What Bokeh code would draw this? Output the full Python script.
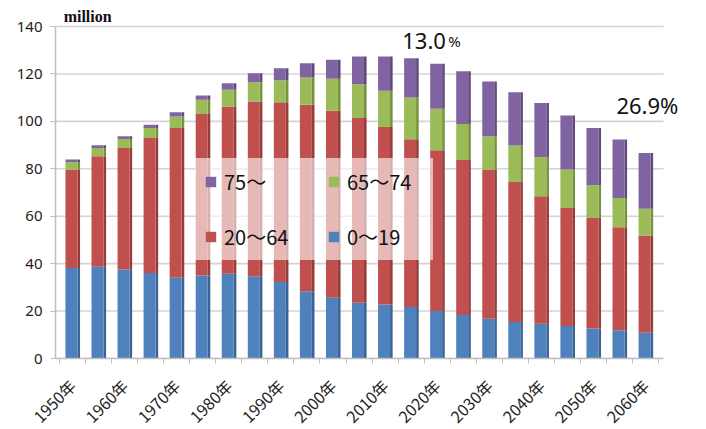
from math import pi
from bokeh.plotting import figure
from bokeh.models import (ColumnDataSource, Range1d, FixedTicker, PrintfTickFormatter,
                          Legend, LegendItem, Label)
from bokeh.transform import dodge
from bokeh.embed import file_html
from bokeh.resources import INLINE

# ---- data (million people) ----
years = [1950, 1955, 1960, 1965, 1970, 1975, 1980, 1985, 1990, 1995, 2000, 2005,
         2010, 2015, 2020, 2025, 2030, 2035, 2040, 2045, 2050, 2055, 2060]
age_0_19 = [38.2, 38.7, 37.5, 36.1, 34.0, 35.0, 35.7, 34.7, 32.3, 28.4, 25.6, 23.5,
            22.8, 21.7, 20.0, 18.3, 16.8, 15.4, 14.7, 13.7, 12.7, 11.9, 10.9]
age_20_64 = [41.5, 46.6, 51.3, 56.9, 63.2, 68.1, 70.6, 73.7, 75.8, 78.6, 78.9, 77.9,
             74.8, 70.8, 67.8, 65.4, 62.9, 59.0, 53.7, 49.8, 46.6, 43.5, 41.0]
age_65_74 = [3.2, 3.5, 3.8, 4.2, 4.9, 6.0, 7.0, 8.1, 9.2, 11.5, 13.5, 14.3,
             15.3, 17.6, 17.5, 15.2, 14.0, 15.4, 16.6, 16.2, 13.8, 12.3, 11.3]
age_75_plus = [1.0, 1.1, 1.1, 1.4, 1.7, 1.8, 2.8, 3.8, 5.1, 6.0, 8.0, 11.7,
               14.5, 16.5, 19.0, 22.2, 23.1, 22.5, 22.7, 22.8, 24.1, 24.6, 23.5]

series = ["a0_19", "a20_64", "a65_74", "a75"]
legend_labels = ["0～19", "20～64", "65～74", "75～"]
y_ticks = [0, 20, 40, 60, 80, 100, 120, 140]
label_years = years[::2]

front_colors = ["#4F81BD", "#C0504D", "#9BBB59", "#8064A2"]
side_colors = ["#3A6496", "#963C3A", "#76923C", "#5F4A7B"]

source = ColumnDataSource(data=dict(year=years, a0_19=age_0_19, a20_64=age_20_64,
                                    a65_74=age_65_74, a75=age_75_plus))

X0, X_AXIS_END, X1 = 1946.74, 2063.45, 2066.7
p = figure(frame_width=625, frame_height=353,
           x_range=Range1d(X0, X1), y_range=Range1d(0, 148.86),
           output_backend="svg", toolbar_location=None,
           min_border_left=55, min_border_right=26, min_border_top=5, min_border_bottom=71)
p.outline_line_color = None
p.background_fill_color = "white"

# grid (drawn as segments so it stops at the chart wall)
p.xgrid.grid_line_color = None
p.ygrid.grid_line_color = None
p.segment(x0=[X0] * len(y_ticks), x1=[X_AXIS_END] * len(y_ticks), y0=y_ticks, y1=y_ticks,
          line_color="#d4d4d4", line_width=1.6)

# side faces (3D look)
p.vbar_stack(series, x=dodge("year", 1.2), width=0.5, color=side_colors,
             line_color=None, source=source)
# front faces
front = p.vbar_stack(series, x=dodge("year", -0.2), width=2.3, color=front_colors,
                     line_color=None, source=source)

# axes
p.yaxis.ticker = FixedTicker(ticks=y_ticks)
p.yaxis.bounds = (0, 140)
p.yaxis.axis_line_color = "#bfbfbf"
p.yaxis.axis_line_width = 1.5
p.yaxis.major_tick_line_color = "#bfbfbf"
p.yaxis.major_tick_out = 5
p.yaxis.major_tick_in = 0
p.yaxis.minor_tick_line_color = None
p.yaxis.major_label_standoff = 8
p.yaxis.major_label_text_font = "Noto Sans"
p.yaxis.major_label_text_font_size = "15px"
p.yaxis.major_label_text_color = "#222222"

minor = [y - 2.5 for y in years] + [years[-1] + 2.5]
p.xaxis.ticker = FixedTicker(ticks=label_years, minor_ticks=minor)
p.xaxis.bounds = (X0, X_AXIS_END)
p.xaxis.formatter = PrintfTickFormatter(format="%d年")
p.xaxis.axis_line_color = "#bfbfbf"
p.xaxis.axis_line_width = 1.5
p.xaxis.major_tick_line_color = None
p.xaxis.minor_tick_line_color = "#bfbfbf"
p.xaxis.minor_tick_out = 5
p.xaxis.minor_tick_in = 0
p.xaxis.major_label_orientation = pi / 4
p.xaxis.major_label_standoff = 18
p.xaxis.major_label_text_font = "Noto Sans CJK JP"
p.xaxis.major_label_text_font_size = "16px"
p.xaxis.major_label_text_color = "#222222"

# legend (column-major fill: 75~, 20~64 | 65~74, 0~19)
items = [LegendItem(label=legend_labels[3], renderers=[front[3]]),
         LegendItem(label=legend_labels[1], renderers=[front[1]]),
         LegendItem(label=legend_labels[2], renderers=[front[2]]),
         LegendItem(label=legend_labels[0], renderers=[front[0]])]
legend = Legend(items=items, location=(140, 98), ncols=2,
                glyph_width=13, glyph_height=13, label_standoff=7,
                label_width=77, label_height=28, spacing=26, padding=9, margin=0,
                background_fill_color="white", background_fill_alpha=0.6,
                border_line_color="white", border_line_alpha=0.0,
                label_text_font="Noto Sans CJK JP", label_text_font_size="20px",
                label_text_color="#111111")
p.add_layout(legend)

# text annotations
p.add_layout(Label(x=1948.3, y=144.2, text="million", text_font="Liberation Serif",
                   text_font_style="bold", text_font_size="16px", text_baseline="alphabetic",
                   text_color="#111111"))
p.add_layout(Label(x=2013.3, y=133.7, text="13.0", text_font="Noto Sans",
                   text_font_size="22px", text_baseline="alphabetic", text_color="#111111"))
p.add_layout(Label(x=2013.3, y=133.7, x_offset=46, text="%", text_font="Noto Sans",
                   text_font_size="15px", text_baseline="alphabetic", text_color="#111111"))
p.add_layout(Label(x=2054.4, y=106.8, text="26.9%", text_font="Noto Sans",
                   text_font_size="22px", text_baseline="alphabetic", text_color="#111111"))

open("out.html", "w").write(file_html(p, INLINE))
